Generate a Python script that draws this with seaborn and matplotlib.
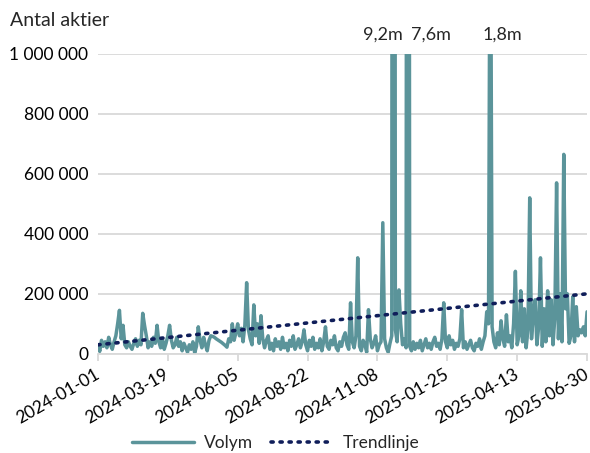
import numpy as np
import pandas as pd
import matplotlib
matplotlib.use("Agg")
import matplotlib.pyplot as plt
import matplotlib.dates as mdates
from matplotlib.ticker import FuncFormatter
import seaborn as sns

# ---- data ----
start_date = "2024-01-01"
step_days = 2
volym = [
    30000, 8000, 45000, 25000, 40000, 20000, 55000, 30000, 15000, 40000,
    60000, 100000, 145000, 50000, 95000, 30000, 20000, 40000, 25000, 15000,
    35000, 50000, 25000, 45000, 30000, 135000, 95000, 60000, 20000, 40000,
    25000, 55000, 35000, 95000, 40000, 20000, 50000, 15000, 35000, 60000,
    95000, 45000, 20000, 30000, 55000, 25000, 40000, 10000, 35000, 20000,
    5000, 30000, 15000, 40000, 3000, 25000, 90000, 45000, 20000, 55000,
    30000, 10000, 45000, 60000, 58000, 55000, 50000, 46000, 42000, 38000,
    33000, 28000, 22000, 50000, 40000, 100000, 45000, 70000, 100000, 60000,
    85000, 40000, 95000, 237000, 80000, 50000, 30000, 163000, 60000, 100000,
    35000, 127000, 50000, 20000, 45000, 60000, 15000, 35000, 10000, 50000,
    25000, 40000, 15000, 55000, 20000, 35000, 10000, 45000, 25000, 60000,
    15000, 30000, 50000, 20000, 40000, 80000, 30000, 10000, 45000, 25000,
    55000, 15000, 35000, 20000, 50000, 10000, 40000, 90000, 25000, 15000,
    45000, 30000, 60000, 20000, 10000, 40000, 25000, 55000, 70000, 30000,
    15000, 170000, 40000, 20000, 60000, 320000, 25000, 10000, 45000, 30000,
    5000, 147000, 50000, 20000, 35000, 60000, 10000, 30000, 40000, 437000,
    50000, 20000, 5000, 35000, 60000, 9200000, 80000, 40000, 213000, 100000,
    30000, 50000, 20000, 7600000, 25000, 10000, 40000, 15000, 35000, 20000,
    45000, 10000, 30000, 50000, 20000, 35000, 15000, 40000, 55000, 25000,
    35000, 15000, 50000, 170000, 40000, 20000, 60000, 30000, 45000, 15000,
    35000, 25000, 50000, 147000, 20000, 40000, 15000, 30000, 45000, 20000,
    10000, 35000, 25000, 50000, 15000, 40000, 60000, 140000, 100000, 1800000,
    90000, 40000, 20000, 70000, 30000, 110000, 50000, 25000, 130000, 40000,
    60000, 20000, 100000, 275000, 30000, 60000, 210000, 40000, 150000, 20000,
    80000, 520000, 50000, 130000, 180000, 30000, 90000, 320000, 25000, 150000,
    40000, 210000, 60000, 180000, 30000, 120000, 570000, 50000, 200000, 40000,
    665000, 150000, 200000, 35000, 60000, 190000, 40000, 157000, 60000, 80000,
    70000, 90000, 60000, 140000,
]
trend_dates = ["2024-01-01", "2025-06-30"]
trend_values = [30000, 200000]
tick_dates = ["2024-01-01", "2024-03-19", "2024-06-05", "2024-08-22",
              "2024-11-08", "2025-01-25", "2025-04-13", "2025-06-30"]
spike_labels = ["9,2m", "7,6m", "1,8m"]

dates = pd.date_range(start_date, periods=len(volym), freq=f"{step_days}D")
df = pd.DataFrame({"date": dates, "Volym": volym})
tdf = pd.DataFrame({"date": pd.to_datetime(trend_dates), "Trendlinje": trend_values})

sns.set_theme(style="white")
plt.rcParams["font.family"] = ["Lato", "DejaVu Sans"]

W, H = 590, 453
fig = plt.figure(figsize=(W / 100, H / 100), dpi=100)
ax = fig.add_axes([0.166, 0.219, 0.829, 0.662])

teal = "#5b949a"
navy = "#101e5a"

sns.lineplot(data=df, x="date", y="Volym", ax=ax, color=teal, linewidth=2.5,
             label="Volym", legend=False)
sns.lineplot(data=tdf, x="date", y="Trendlinje", ax=ax, color=navy, linewidth=2.6,
             linestyle=(0, (0.6, 1.9)), dash_capstyle="round", label="Trendlinje",
             legend=False)

ax.set_xlim(pd.Timestamp(tick_dates[0]), pd.Timestamp(tick_dates[-1]))
ax.set_ylim(0, 1000000)
ax.set_yticks(np.arange(0, 1000001, 200000))
ax.yaxis.set_major_formatter(FuncFormatter(lambda v, p: f"{int(v):,}".replace(",", " ")))
ax.set_xticks(pd.to_datetime(tick_dates))
ax.xaxis.set_major_formatter(mdates.DateFormatter("%Y-%m-%d"))

ax.grid(axis="y", color="#d9d9d9", linewidth=1.3)
ax.set_axisbelow(True)
for s in ["left", "right", "top"]:
    ax.spines[s].set_visible(False)
ax.spines["bottom"].set_color("#d9d9d9")
ax.spines["bottom"].set_linewidth(1.3)
ax.tick_params(axis="x", which="major", bottom=True, length=5, width=1.3,
               color="#d9d9d9", labelsize=12.5, labelcolor="black", pad=9)
ax.tick_params(axis="y", left=False, labelsize=12.5, labelcolor="black", pad=1)
for lab in ax.get_xticklabels():
    lab.set_rotation(30)
    lab.set_ha("right")
    lab.set_va("center")
    lab.set_rotation_mode("anchor")
ax.set_xlabel("")
ax.set_ylabel("")

fig.text(10 / W, 1 - 20 / H, "Antal aktier", fontsize=14, ha="left", va="center")

for lab, px in zip(spike_labels, [383, 431, 502]):
    fig.text(px / W, 1 - 35 / H, lab, fontsize=13, ha="center", va="center")

handles, labels = ax.get_legend_handles_labels()
fig.legend(handles, labels, loc="center", bbox_to_anchor=(276 / W, 1 - 443 / H), ncol=2,
           frameon=False, fontsize=12.5, handlelength=3.55, handletextpad=0.6,
           columnspacing=1.0, borderpad=0)

fig.savefig("out.png", dpi=100)
